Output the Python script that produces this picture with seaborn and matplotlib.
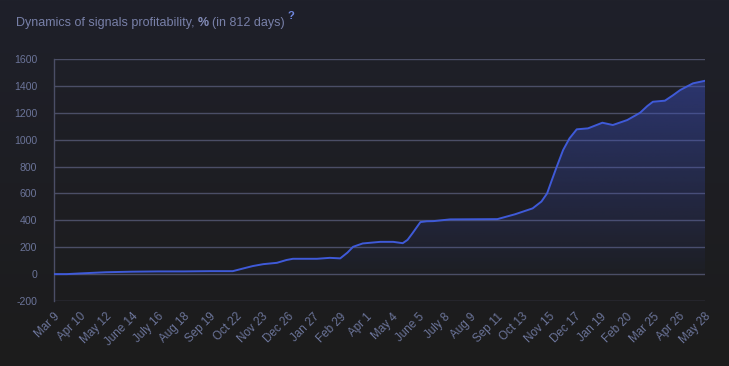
import numpy as np
import pandas as pd
import seaborn as sns
import matplotlib.pyplot as plt
from matplotlib.patches import PathPatch
from matplotlib.colors import to_rgb

# ---- data ----
start_date = "2023-03-09"
tick_dates = ["2023-03-09", "2023-04-10", "2023-05-12", "2023-06-14", "2023-07-16",
              "2023-08-18", "2023-09-19", "2023-10-22", "2023-11-23", "2023-12-26",
              "2024-01-27", "2024-02-29", "2024-04-01", "2024-05-04", "2024-06-05",
              "2024-07-08", "2024-08-09", "2024-09-11", "2024-10-13", "2024-11-15",
              "2024-12-17", "2025-01-19", "2025-02-20", "2025-03-25", "2025-04-26",
              "2025-05-28"]
tick_labels = ["Mar 9", "Apr 10", "May 12", "June 14", "July 16", "Aug 18", "Sep 19",
               "Oct 22", "Nov 23", "Dec 26", "Jan 27", "Feb 29", "Apr 1", "May 4",
               "June 5", "July 8", "Aug 9", "Sep 11", "Oct 13", "Nov 15", "Dec 17",
               "Jan 19", "Feb 20", "Mar 25", "Apr 26", "May 28"]

days = [0, 16, 32, 65, 97, 130, 162, 195, 223, 236, 248, 261, 278, 290, 298, 328,
        344, 357, 366, 373, 385, 407, 423, 435, 441, 447, 457, 465, 473, 494, 553,
        575, 597, 608, 615, 621, 627, 635, 643, 652, 666, 684, 697, 715, 731, 740,
        747, 762, 772, 781, 797, 812]
profit = [0, 0, 5, 14, 18, 20, 20, 22, 22, 42, 60, 74, 84, 105, 114, 114,
          121, 117, 160, 203, 228, 240, 240, 230, 255, 303, 387, 393, 394, 407, 409,
          445, 489, 540, 600, 700, 798, 923, 1010, 1077, 1084, 1126, 1109, 1146, 1200, 1250,
          1282, 1290, 1330, 1369, 1419, 1438]

y_ticks = list(range(-200, 1601, 200))

# ---- style ----
sns.set_style("dark")
plt.rcParams['font.family'] = ['Liberation Sans', 'DejaVu Sans']

grid_col = "#4b4e66"
label_col = "#6b7499"
line_col = "#3f5ad8"

fig = plt.figure(figsize=(7.29, 3.66), dpi=100)

# background gradient (bluish top -> neutral dark bottom)
bg = fig.add_axes([0, 0, 1, 1], zorder=-10)
top_c = np.array(to_rgb("#1f202a"))
bot_c = np.array(to_rgb("#1c1c1c"))
t = np.linspace(0, 1, 256)[:, None]
grad = (top_c * (1 - t) + bot_c * t)[:, None, :].repeat(2, axis=1)
bg.imshow(grad, aspect='auto', extent=[0, 1, 0, 1], origin='upper')
bg.set_axis_off()

ax = fig.add_axes([0.0741, 0.1776, 0.893, 0.6612])
ax.set_facecolor("none")

tick_days = [(pd.Timestamp(d) - pd.Timestamp(start_date)).days for d in tick_dates]
df = pd.DataFrame({"day": days, "profit": profit})

# gradient fill under the curve
poly = ax.fill_between(df["day"], df["profit"], 0, color="none", linewidth=0)
path = poly.get_paths()[0]
patch = PathPatch(path, transform=ax.transData, facecolor="none", edgecolor="none")
ax.add_patch(patch)
fill_rgb = np.array(to_rgb("#3d52c8"))
alpha = np.linspace(0.45, 0.03, 256)[:, None]
fill = np.zeros((256, 2, 4))
fill[..., :3] = fill_rgb
fill[..., 3] = alpha
img = ax.imshow(fill, aspect='auto', extent=[0, 812, 0, 1450], origin='upper', zorder=1)
img.set_clip_path(patch)

sns.lineplot(data=df, x="day", y="profit", color=line_col, linewidth=1.4, ax=ax, zorder=3)

ax.set_xlim(0, 812)
ax.set_ylim(-200, 1600)
ax.set_yticks(y_ticks)
ax.set_yticklabels([str(v) for v in y_ticks])
ax.set_xticks(tick_days)
ax.set_xticklabels(tick_labels, rotation=45, ha="right", rotation_mode="anchor")
ax.set_xlabel("")
ax.set_ylabel("")

ax.grid(False)
for v in y_ticks:
    ax.axhline(v, color=grid_col, linewidth=1.0, zorder=0)
for s in ["top", "right", "bottom"]:
    ax.spines[s].set_visible(False)
ax.spines["left"].set_color(grid_col)
ax.spines["left"].set_linewidth(1.0)

ax.tick_params(axis="y", colors=grid_col, length=11, width=1.0, pad=1,
               labelcolor=label_col, labelsize=7.6)
ax.tick_params(axis="x", length=0, pad=7, labelcolor=label_col, labelsize=8.4)

title_y = 0.937
t1 = fig.text(0.022, title_y, "Dynamics of signals profitability, ", color="#7880a8",
              fontsize=9, va="center", ha="left")
fig.canvas.draw()
x1 = t1.get_window_extent().x1 / fig.bbox.width
t2 = fig.text(x1, title_y, "%", color="#848dba", fontsize=9, fontweight="bold",
              va="center", ha="left")
fig.canvas.draw()
x2 = t2.get_window_extent().x1 / fig.bbox.width
t3 = fig.text(x2 + 0.004, title_y, "(in 812 days)", color="#7880a8", fontsize=9,
              va="center", ha="left")
fig.canvas.draw()
x3 = t3.get_window_extent().x1 / fig.bbox.width
fig.text(x3 + 0.004, 0.955, "?", color="#6f86dc", fontsize=8, fontweight="bold",
         va="center", ha="left")

fig.savefig("out.png", dpi=100, facecolor="#1c1c1c")
